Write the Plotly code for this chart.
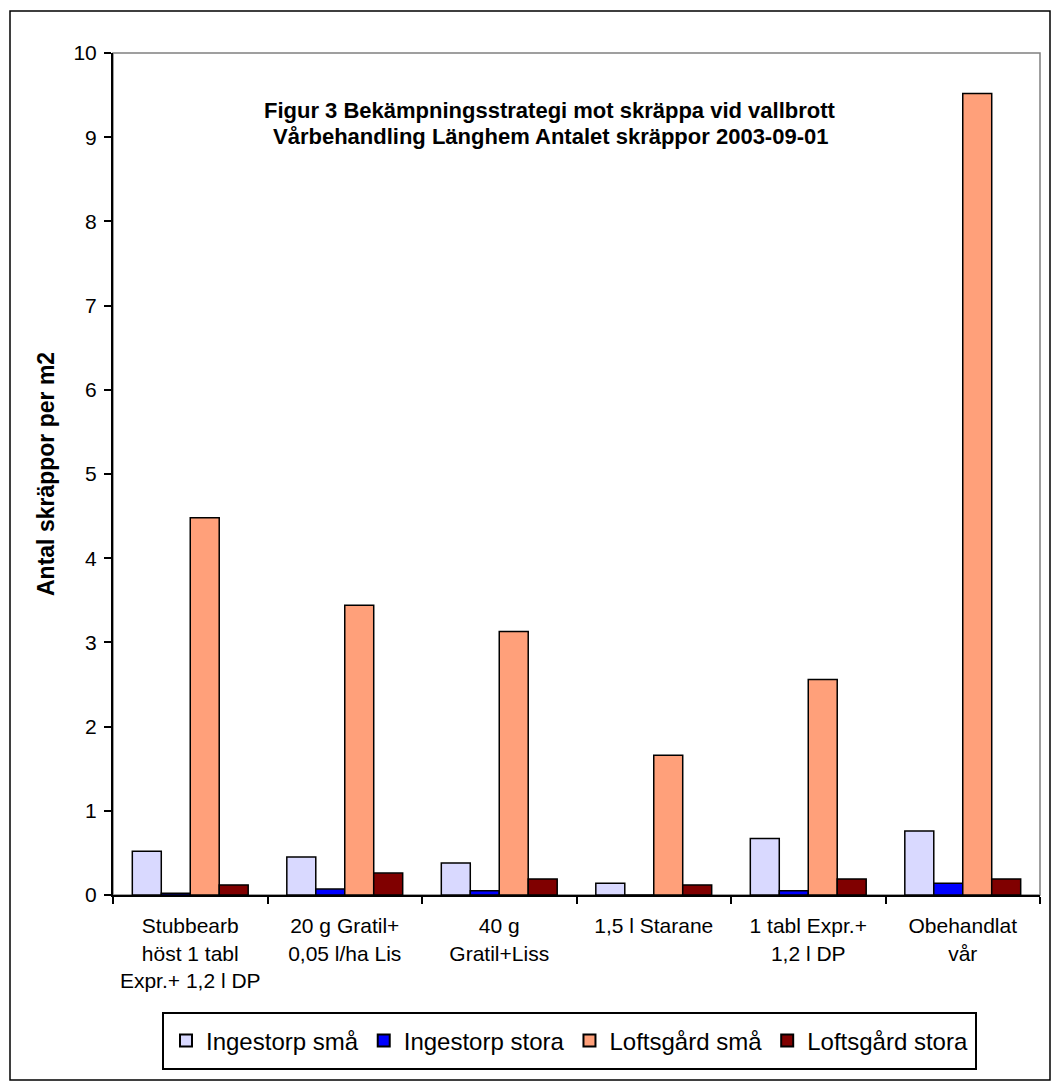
import plotly.graph_objects as go

categories = [
    "Stubbearb<br>höst 1 tabl<br>Expr.+ 1,2 l DP",
    "20 g Gratil+<br>0,05 l/ha Lis",
    "40 g<br>Gratil+Liss",
    "1,5 l Starane",
    "1 tabl Expr.+<br>1,2 l DP",
    "Obehandlat<br>vår",
]
series_names = ["Ingestorp små", "Ingestorp stora", "Loftsgård små", "Loftsgård stora"]
ingestorp_sma = [0.52, 0.45, 0.38, 0.14, 0.67, 0.76]
ingestorp_stora = [0.02, 0.07, 0.05, 0.0, 0.05, 0.14]
loftsgard_sma = [4.48, 3.44, 3.13, 1.66, 2.56, 9.52]
loftsgard_stora = [0.12, 0.26, 0.19, 0.12, 0.19, 0.19]
colors = ["#D9D9FF", "#0000FF", "#FFA07A", "#800000"]
y_ticks = list(range(0, 11))
title_lines = [
    "Figur 3 Bekämpningsstrategi mot skräppa vid vallbrott",
    "Vårbehandling Länghem Antalet skräppor 2003-09-01",
]
y_title = "Antal skräppor per m2"

FONT = "Liberation Sans, Arial, sans-serif"
W, H = 1053, 1086
L, R, T, B = 113, 13, 53, 191
PW, PH = W - L - R, H - T - B

def px_x(p):
    return (p - L) / PW

def px_y(p):
    return (H - B - p) / PH

fig = go.Figure()
for name, vals, col in zip(series_names,
                           [ingestorp_sma, ingestorp_stora, loftsgard_sma, loftsgard_stora],
                           colors):
    fig.add_trace(go.Bar(
        x=categories, y=vals, name=name,
        marker=dict(color=col, line=dict(color="#000000", width=1.5)),
    ))

annotations = []
for i, line in enumerate(title_lines):
    annotations.append(dict(
        text="<b>%s</b>" % line, xref="paper", yref="paper",
        x=px_x(550), y=px_y(110 + 26 * i), xanchor="center", yanchor="middle",
        showarrow=False, font=dict(family=FONT, size=22, color="black")))
annotations.append(dict(
    text="<b>%s</b>" % y_title, textangle=-90, xref="paper", yref="paper",
    x=px_x(46), y=px_y(474), xanchor="center", yanchor="middle", showarrow=False,
    font=dict(family=FONT, size=23, color="black")))

LEG_X0, LEG_X1, LEG_Y0, LEG_Y1 = 163, 976, 1013, 1069

fig.update_layout(
    width=W, height=H,
    margin=dict(l=L, r=R, t=T, b=B, pad=0),
    paper_bgcolor="white", plot_bgcolor="white",
    barmode="group", bargap=0.25, bargroupgap=0,
    font=dict(family=FONT, size=21, color="black"),
    showlegend=True,
    legend=dict(
        orientation="h", x=px_x((LEG_X0 + LEG_X1) / 2), xanchor="center",
        y=px_y((LEG_Y0 + LEG_Y1) / 2), yanchor="middle",
        borderwidth=0, bgcolor="rgba(0,0,0,0)",
        font=dict(family=FONT, size=24, color="black"),
        itemsizing="constant", tracegroupgap=0, itemwidth=30,
    ),
    xaxis=dict(
        type="category", showline=True, linecolor="black", linewidth=2,
        ticks="outside", ticklen=7, tickcolor="black", tickwidth=2,
        tickson="boundaries", showgrid=False, zeroline=False,
        tickfont=dict(family=FONT, size=21, color="black"),
        ticklabelstandoff=11, fixedrange=True,
    ),
    yaxis=dict(
        range=[0, 10], tickvals=y_ticks, ticktext=[str(v) for v in y_ticks],
        showline=True, linecolor="black", linewidth=2,
        ticks="outside", ticklen=7, tickcolor="black", tickwidth=2,
        showgrid=False, zeroline=False,
        tickfont=dict(family=FONT, size=21, color="black"),
        ticklabelstandoff=3, fixedrange=True,
    ),
    shapes=[
        dict(type="rect", xref="paper", yref="paper", x0=0, x1=1, y0=0, y1=1,
             line=dict(color="#808080", width=1.5), layer="below"),
        dict(type="rect", xref="paper", yref="paper",
             x0=px_x(10), x1=px_x(1050), y0=px_y(11), y1=px_y(1080),
             line=dict(color="black", width=1.5), layer="below"),
        dict(type="rect", xref="paper", yref="paper",
             x0=px_x(LEG_X0), x1=px_x(LEG_X1), y0=px_y(LEG_Y0), y1=px_y(LEG_Y1),
             line=dict(color="black", width=2), fillcolor="white", layer="below"),
    ],
    annotations=annotations,
)

fig.write_html("out.html", include_plotlyjs=True, config={"displayModeBar": False},
               post_script="document.body.style.margin='0';document.body.style.overflow='hidden';")
